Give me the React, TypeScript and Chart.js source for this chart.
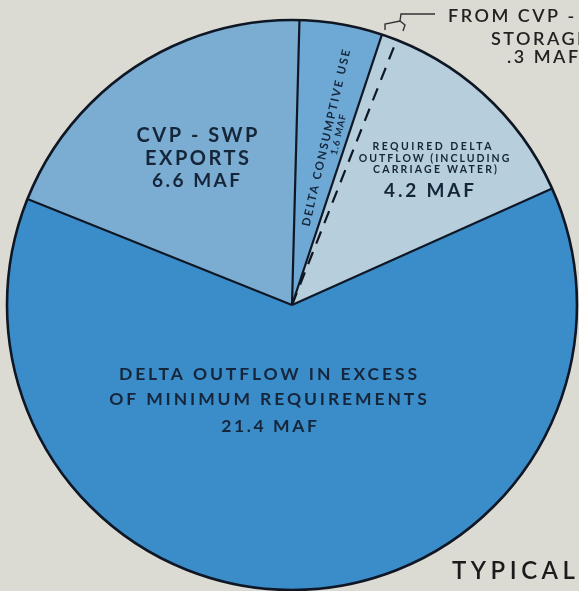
import React, { useEffect, useRef } from "react";
import { Chart, registerables } from "chart.js";

Chart.register(...registerables);

const categories = [
  "Delta consumptive use",
  "From CVP - SWP storage",
  "Required Delta outflow (including carriage water)",
  "Delta outflow in excess of minimum requirements",
  "CVP - SWP exports",
];
const valuesMAF = [1.6, 0.3, 4.2, 21.4, 6.6];
const sliceColors = ["#6ea9d6", "#b7cedd", "#b7cedd", "#3b8dca", "#7badd2"];

const BG = "#dcdbd3";
const INK = "#16263a";

const overlay = {
  id: "overlay",
  afterDatasetsDraw(chart: any) {
    const ctx: CanvasRenderingContext2D = chart.ctx;
    const meta = chart.getDatasetMeta(0);
    const arcs = meta.data as any[];
    if (!arcs.length) return;
    const cx = arcs[0].x;
    const cy = arcs[0].y;
    const r = arcs[0].outerRadius;
    ctx.save();
    ctx.strokeStyle = "#0f1725";
    ctx.lineCap = "butt";
    arcs.forEach((a: any, i: number) => {
      const ang = a.startAngle;
      ctx.beginPath();
      ctx.lineWidth = 2.2;
      if (i === 2) {
        ctx.setLineDash([13, 9]);
      } else {
        ctx.setLineDash([]);
      }
      ctx.moveTo(cx, cy);
      ctx.lineTo(cx + Math.cos(ang) * r, cy + Math.sin(ang) * r);
      ctx.stroke();
    });
    ctx.setLineDash([]);
    ctx.beginPath();
    ctx.lineWidth = 2.6;
    ctx.arc(cx, cy, r, 0, Math.PI * 2);
    ctx.stroke();

    ctx.fillStyle = INK;
    ctx.textBaseline = "alphabetic";
    ctx.textAlign = "center";
    const txt = (s: string, x: number, y: number, size: number, sp: number) => {
      ctx.font = `bold ${size}px Lato, "Open Sans", sans-serif`;
      (ctx as any).letterSpacing = `${sp}px`;
      ctx.fillText(s, x + sp / 2, y);
    };
    // exports
    txt("CVP - SWP", 197, 142, 20, 2.5);
    txt("EXPORTS", 197, 165, 20, 2.5);
    txt("6.6 MAF", 196, 187, 19, 2.5);
    // excess
    txt("DELTA OUTFLOW IN EXCESS", 268, 380, 17.5, 2.9);
    txt("OF MINIMUM REQUIREMENTS", 268, 405, 17.5, 2.9);
    txt("21.4 MAF", 269, 432, 17.5, 2.6);
    // required
    txt("REQUIRED DELTA", 432, 150, 10.5, 2.5);
    txt("OUTFLOW (INCLUDING", 434, 162, 10.5, 2.0);
    txt("CARRIAGE WATER)", 435, 173, 10.5, 2.2);
    txt("4.2 MAF", 429, 197, 19, 2.8);
    // consumptive use (rotated)
    ctx.save();
    ctx.translate(326, 138);
    ctx.rotate((-77 * Math.PI) / 180);
    txt("DELTA CONSUMPTIVE USE", 0, 4, 11.5, 1.8);
    txt("1.6 MAF", 6, 14.5, 9.5, 0.8);
    ctx.restore();

    // storage annotation
    ctx.textAlign = "left";
    ctx.font = `600 18px Lato, "Open Sans", sans-serif`;
    (ctx as any).letterSpacing = "2.5px";
    ctx.fillStyle = "#222";
    ctx.fillText("FROM CVP - SWP", 448, 22);
    ctx.fillText("STORAGE", 491, 45);
    ctx.fillText(".3 MAF", 507, 63);
    ctx.strokeStyle = "#333";
    ctx.lineWidth = 1.4;
    ctx.beginPath();
    ctx.moveTo(435, 14);
    ctx.lineTo(401, 14);
    ctx.lineTo(400, 21);
    ctx.moveTo(385, 30);
    ctx.lineTo(385, 24);
    ctx.lineTo(400, 21);
    ctx.lineTo(405, 25);
    ctx.lineTo(403, 31);
    ctx.stroke();

    // TYPICAL
    ctx.font = `600 24px Lato, "Open Sans", sans-serif`;
    (ctx as any).letterSpacing = "4.5px";
    ctx.fillStyle = "#1b1b1b";
    ctx.fillText("TYPICAL", 452, 579);
    ctx.restore();
  },
};

export default function App() {
  const ref = useRef<HTMLCanvasElement | null>(null);
  useEffect(() => {
    if (!ref.current) return;
    const chart = new Chart(ref.current, {
      type: "pie",
      data: {
        labels: categories,
        datasets: [
          {
            data: valuesMAF,
            backgroundColor: sliceColors,
            borderWidth: 0,
            clip: false as any,
          } as any,
        ],
      },
      options: {
        animation: false,
        responsive: false,
        rotation: 1.5,
        radius: 285,
        layout: { padding: { left: 5, top: 19, right: 0, bottom: 0 } },
        plugins: {
          legend: { display: false },
          tooltip: { enabled: false },
        },
      } as any,
      plugins: [overlay],
    });
    return () => chart.destroy();
  }, []);
  return (
    <div
      style={{
        position: "fixed",
        left: 0,
        top: 0,
        width: 579,
        height: 591,
        background: BG,
        overflow: "hidden",
      }}
    >
      <canvas ref={ref} width={579} height={591} style={{ display: "block" }} />
    </div>
  );
}
